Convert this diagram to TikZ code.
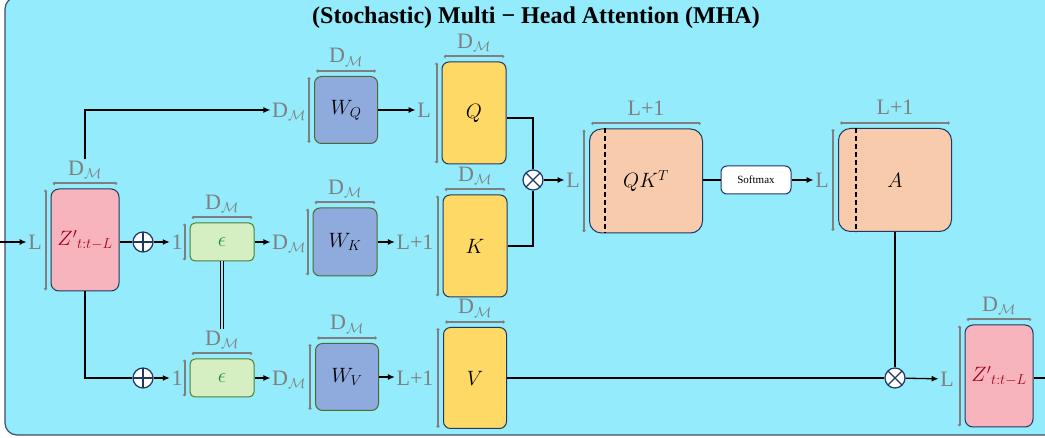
\documentclass[tikz,border=0pt]{standalone}
\usepackage{fontspec}
\setmainfont{Liberation Serif}
\usetikzlibrary{arrows.meta,calc}
\definecolor{bg}{HTML}{93EBFC}
\definecolor{bgborder}{HTML}{3B4C6B}
\definecolor{navy}{HTML}{1F3864}
\definecolor{labgray}{HTML}{7F7F7F}
\definecolor{zfill}{HTML}{F8B4BC}
\definecolor{zred}{HTML}{A00018}
\definecolor{efill}{HTML}{D5EFC3}
\definecolor{eborder}{HTML}{507E32}
\definecolor{etext}{HTML}{1E8B3E}
\definecolor{wfill}{HTML}{8FAADC}
\definecolor{wborder}{HTML}{4A6B35}
\definecolor{qfill}{HTML}{FFD966}
\definecolor{afill}{HTML}{F8CBAD}
\newcommand\DM{D$_{\mathcal{M}}$}
\newcommand\Zt{${Z'}_{\hbox{\fontsize{15}{15}\selectfont$t{:}t{-}L$}}$}
\newcommand\mkTop[3]{%
  \draw[dimbar] ($(#1.north west)+(2,-5)$) -- ($(#1.north east)+(-2,-5)$);
  \node[lab, anchor=base] (#2) at ($(#1.north)+(0,-13)$) {#3};}
\newcommand\mkSide[1]{%
  \draw[dimbar] ($(#1.north west)+(-5,1)$) -- ($(#1.south west)+(-5,-1)$);}
\begin{document}
\begin{tikzpicture}[x=1pt,y=-1pt,
  every node/.style={inner sep=1pt},
  box/.style={draw=navy, line width=1pt, rounded corners=7pt, inner sep=0pt, font=\fontsize{21}{23}\selectfont},
  lab/.style={text=labgray, font=\fontsize{22}{24}\selectfont, inner sep=1.5pt},
  dimbar/.style={draw=labgray, line width=2pt, {Latex[length=2pt,width=4pt]}-{Latex[length=2pt,width=4pt]}},
  conn/.style={draw=black, line width=1.3pt},
  arr/.style={conn, -{Latex[length=7pt,width=6pt]}},
  circ/.style={circle, draw=navy, fill=white, line width=1.2pt, minimum size=20pt, inner sep=0pt},
  oplus/.style={circ, path picture={\draw[line width=1.2pt] (path picture bounding box.north) -- (path picture bounding box.south) (path picture bounding box.west) -- (path picture bounding box.east);}},
  otimes/.style={circ, path picture={\draw[line width=1.2pt] (path picture bounding box.north west) -- (path picture bounding box.south east) (path picture bounding box.south west) -- (path picture bounding box.north east);}},
]
\useasboundingbox (0,0) rectangle (1045,438);
\draw[fill=bg, draw=bgborder, line width=1.2pt, rounded corners=12pt] (5,-3) rectangle (1075,435);

\node[font=\fontsize{24}{26}\selectfont\bfseries] (title) at (536,18) {(Stochastic) Multi − Head Attention (MHA)};

% boxes
\node[box, fill=zfill, text=zred, minimum width=68pt, minimum height=102pt, rounded corners=8pt] (Z1) at (85,240) {\Zt};
\node[box, fill=efill, draw=eborder, text=etext, minimum width=64pt, minimum height=38pt, rounded corners=5pt] (E1) at (222,242) {$\epsilon$};
\node[box, fill=efill, draw=eborder, text=etext, minimum width=64pt, minimum height=38pt, rounded corners=5pt] (E2) at (222,378) {$\epsilon$};
\node[box, fill=wfill, draw=wborder, minimum width=63pt, minimum height=67pt] (WQ) at (346,110) {$W_Q$};
\node[box, fill=wfill, draw=wborder, minimum width=64pt, minimum height=68pt] (WK) at (345,242) {$W_K$};
\node[box, fill=wfill, draw=wborder, minimum width=63pt, minimum height=67pt] (WV) at (347,377) {$W_V$};
\node[box, fill=qfill, minimum width=64pt, minimum height=102pt] (Q) at (474,113) {$Q$};
\node[box, fill=qfill, minimum width=64pt, minimum height=102pt] (K) at (475,246) {$K$};
\node[box, fill=qfill, minimum width=63pt, minimum height=101pt] (V) at (475,378) {$V$};
\node[box, fill=afill, minimum width=113pt, minimum height=104pt, rounded corners=12pt] (QK) at (646,181) {$QK^T$};
\node[box, fill=white, minimum width=70pt, minimum height=28pt, rounded corners=6pt, font=\fontsize{11}{12}\selectfont] (SM) at (756,180) {Softmax};
\node[box, fill=afill, minimum width=113pt, minimum height=103pt, rounded corners=12pt] (A) at (895,180) {$A$};
\node[box, fill=zfill, text=zred, minimum width=68pt, minimum height=102pt, rounded corners=8pt] (Z2) at (999,376) {\Zt};

% dashed separators
\draw[dashed, line width=1.3pt, dash pattern=on 5pt off 3pt] ([xshift=16pt]QK.north west) -- ([xshift=16pt]QK.south west);
\draw[dashed, line width=1.3pt, dash pattern=on 5pt off 3pt] ([xshift=18pt]A.north west) -- ([xshift=18pt]A.south west);

% operators
\node[oplus] (op1) at (143,242) {};
\node[oplus] (op2) at (143,378) {};
\node[otimes] (ot1) at (533,180) {};
\node[otimes] (ot2) at (895,378) {};

% dimension bars and labels
\mkTop{Z1}{tZ1}{\DM}\mkSide{Z1}
\mkTop{E1}{tE1}{\DM}\mkSide{E1}
\mkTop{E2}{tE2}{\DM}\mkSide{E2}
\mkTop{WQ}{tWQ}{\DM}\mkSide{WQ}
\mkTop{WK}{tWK}{\DM}\mkSide{WK}
\mkTop{WV}{tWV}{\DM}\mkSide{WV}
\mkTop{Q}{tQ}{\DM}\mkSide{Q}
\mkTop{K}{tK}{\DM}\mkSide{K}
\mkTop{V}{tV}{\DM}\mkSide{V}
\mkTop{QK}{tQK}{L+1}\mkSide{QK}
\mkTop{A}{tA}{L+1}\mkSide{A}
\mkTop{Z2}{tZ2}{\DM}\mkSide{Z2}

% side labels
\node[lab] (lZ1) at (35,242) {L};
\node[lab] (l1a) at (177,242) {1};
\node[lab] (l1b) at (177,378) {1};
\node[lab] (dQ) at (289,112) {\DM};
\node[lab] (dK) at (289,244) {\DM};
\node[lab] (dV) at (289,380) {\DM};
\node[lab] (lQ) at (424,110) {L};
\node[lab] (lK) at (415,242) {L+1};
\node[lab] (lV) at (415,378) {L+1};
\node[lab] (lQK) at (573,180) {L};
\node[lab] (lA) at (822,180) {L};
\node[lab] (lZ2) at (947,379) {L};

% connectors
\coordinate (in) at (0,242);
\coordinate (out) at (1045,378);
\draw[arr] (in) -- (lZ1.west);
\draw[conn] (Z1.east |- op1) -- (op1);
\draw[arr] (op1) -- (l1a);
\draw[arr] (E1.east) -- (E1.east -| dK.west);
\draw[arr] (tZ1.north) |- (dQ.west |- WQ.west);
\draw[conn] (Z1.south) |- (op2.west);
\draw[arr] (op2) -- (l1b);
\draw[arr] (E2.east) -- (E2.east -| dV.west);
\draw[draw=black, double=bg, double distance=2.5pt, line width=1.1pt] (E1.south) -- (tE2.north);
\draw[arr] (WQ.east) -- (lQ.west);
\draw[arr] (WK.east) -- (lK.west);
\draw[arr] (WV.east) -- (WV.east -| lV.west);
\draw[conn] ([yshift=-5pt]Q.east) -| (ot1.north);
\draw[conn] (K.east) -| (ot1.south);
\draw[arr] (ot1) -- (lQK);
\draw[conn] (QK.east |- SM.west) -- (SM.west);
\draw[arr] (SM) -- (lA);
\draw[conn] (A.south) -- (ot2.north);
\draw[conn] (V.east) -- (ot2.west);
\draw[arr] (ot2) -- (lZ2);
\draw[conn] (Z2.east |- ot2) -- (out);
\end{tikzpicture}
\end{document}
